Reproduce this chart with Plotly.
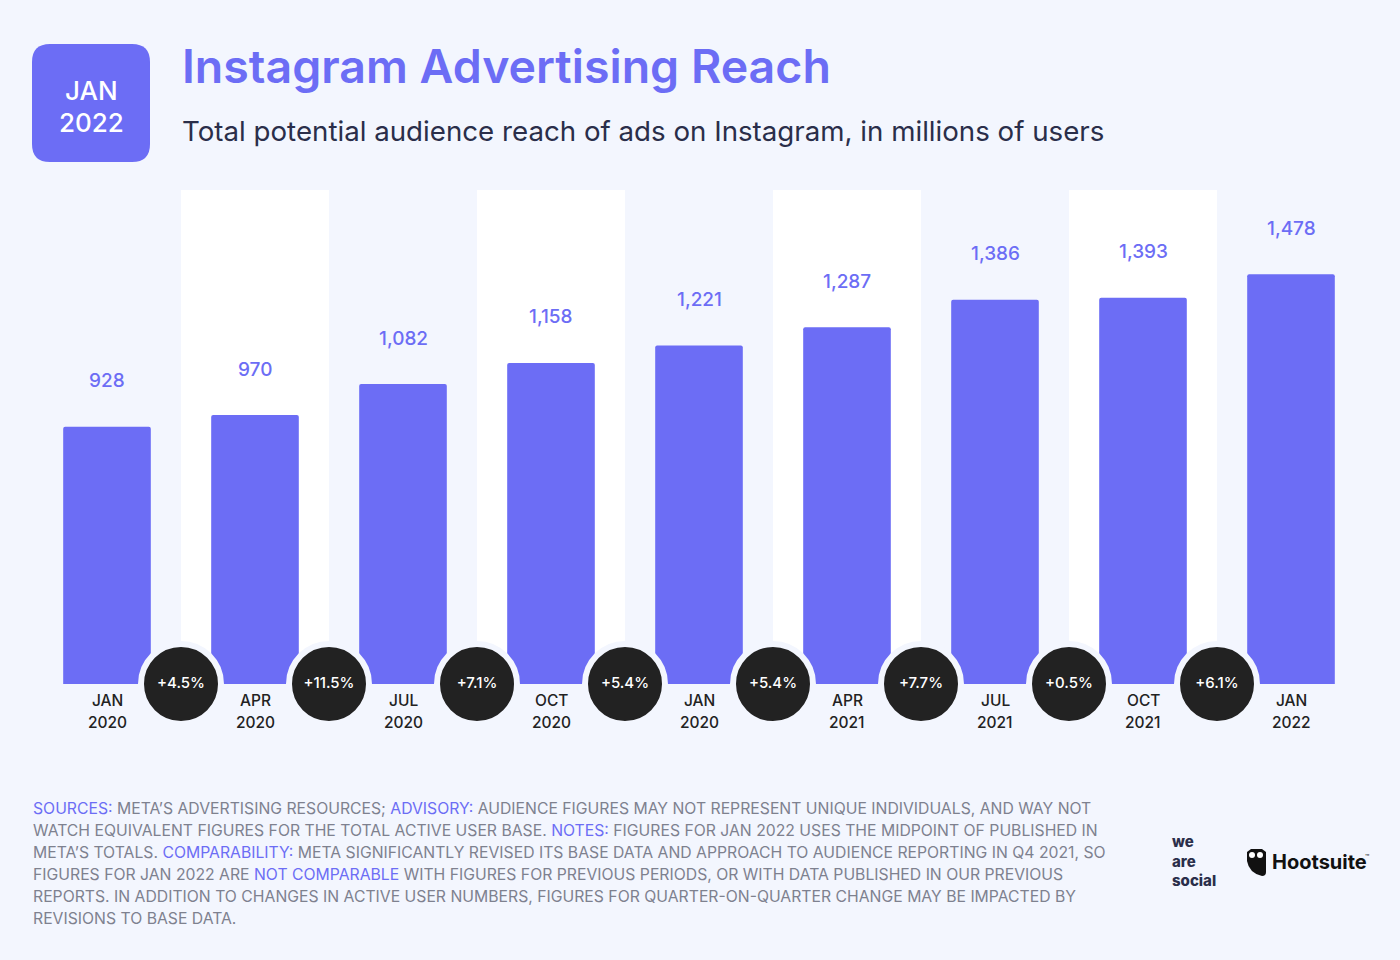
import plotly.graph_objects as go

# ---------------- data ----------------
months = ["JAN", "APR", "JUL", "OCT", "JAN", "APR", "JUL", "OCT", "JAN"]
years = ["2020", "2020", "2020", "2020", "2020", "2021", "2021", "2021", "2022"]
reach = [928, 970, 1082, 1158, 1221, 1287, 1386, 1393, 1478]
changes = ["+4.5%", "+11.5%", "+7.1%", "+5.4%", "+5.4%", "+7.7%", "+0.5%", "+6.1%"]

# ---------------- style ----------------
BG = "#F3F6FE"
PURPLE = "#6C6DF5"
DARK = "#222222"
NAVY = "#2A2E4A"
GREY = "#7E818F"
FONT = "Inter"

W, H = 1400, 960
L, R, T, B = 33, 35, 190, 276
PW = W - L - R
PH = H - T - B
YMAX = 1782


def px(x):
    return (x - L) / PW


def py(y):
    return (H - B - y) / PH


xs = list(range(len(reach)))
fig = go.Figure()

fig.add_trace(go.Bar(
    x=xs, y=reach, width=0.592, marker=dict(color=PURPLE, line=dict(width=0)),
    hoverinfo="skip", showlegend=False,
))

mid = [i + 0.5 for i in range(len(changes))]
fig.add_trace(go.Scatter(
    x=mid, y=[0] * len(changes), mode="markers+text", text=changes,
    textposition="middle center",
    textfont=dict(family=FONT, size=15, color="white", weight=500),
    marker=dict(size=80, color=DARK, line=dict(width=6, color=BG)),
    cliponaxis=False, hoverinfo="skip", showlegend=False,
))

shapes = []
# white stripes behind alternate columns
for i in range(0, len(reach) - 1, 2):
    shapes.append(dict(type="rect", xref="x", yref="paper", x0=i + 0.5, x1=i + 1.5,
                       y0=0, y1=1, fillcolor="white", line=dict(width=0), layer="below"))

# rounded date badge
bx0, bx1, by0, by1, rr = 32, 150, 44, 162, 18
path = (f"M {px(bx0+rr)},{py(by0)} L {px(bx1-rr)},{py(by0)} Q {px(bx1)},{py(by0)} {px(bx1)},{py(by0+rr)} "
        f"L {px(bx1)},{py(by1-rr)} Q {px(bx1)},{py(by1)} {px(bx1-rr)},{py(by1)} "
        f"L {px(bx0+rr)},{py(by1)} Q {px(bx0)},{py(by1)} {px(bx0)},{py(by1-rr)} "
        f"L {px(bx0)},{py(by0+rr)} Q {px(bx0)},{py(by0)} {px(bx0+rr)},{py(by0)} Z")
shapes.append(dict(type="path", xref="paper", yref="paper", path=path,
                   fillcolor=PURPLE, line=dict(width=0)))

# owl icon (Hootsuite)
ox0, ox1, oy0, oy1 = 1247, 1266, 849, 876
owl = (f"M {px(ox0)},{py(oy0+3)} L {px(ox0+4)},{py(oy0)} L {px(ox1-4)},{py(oy0)} L {px(ox1)},{py(oy0+3)} "
       f"L {px(ox1)},{py(oy1-4)} Q {px(ox1)},{py(oy1)} {px(ox1-4)},{py(oy1)} "
       f"Q {px(ox0+2)},{py(oy1-3)} {px(ox0)},{py(oy0+12)} Z")
shapes.append(dict(type="path", xref="paper", yref="paper", path=owl,
                   fillcolor="#111111", line=dict(width=0)))
for ex in (1252, 1260):
    shapes.append(dict(type="circle", xref="paper", yref="paper",
                       x0=px(ex - 3), x1=px(ex + 3), y0=py(855 + 3), y1=py(855 - 3),
                       fillcolor="white", line=dict(width=0)))

ann = []
# value labels
for i, v in enumerate(reach):
    ann.append(dict(x=i, y=v, xref="x", yref="y", text=f"{v:,}", showarrow=False,
                    yanchor="middle", yshift=46,
                    font=dict(family=FONT, size=19, color=PURPLE, weight=500)))
# category labels
for i, (m, yv) in enumerate(zip(months, years)):
    ann.append(dict(x=i, y=0, xref="x", yref="y", text=m, showarrow=False,
                    yanchor="middle", yshift=-16,
                    font=dict(family=FONT, size=15.5, color=DARK, weight=500)))
    ann.append(dict(x=i, y=0, xref="x", yref="y", text=yv, showarrow=False,
                    yanchor="middle", yshift=-38,
                    font=dict(family=FONT, size=15.5, color=DARK, weight=500)))

# badge text
ann.append(dict(x=px(91), y=py(90), xref="paper", yref="paper", text="JAN", showarrow=False,
                xanchor="center", yanchor="middle",
                font=dict(family=FONT, size=26, color="white", weight=500)))
ann.append(dict(x=px(91), y=py(122), xref="paper", yref="paper", text="2022", showarrow=False,
                xanchor="center", yanchor="middle",
                font=dict(family=FONT, size=26, color="white", weight=500)))
# title / subtitle
ann.append(dict(x=px(180), y=py(66), xref="paper", yref="paper", text="Instagram Advertising Reach",
                showarrow=False, xanchor="left", yanchor="middle",
                font=dict(family=FONT, size=46.5, color=PURPLE, weight=600)))
ann.append(dict(x=px(180), y=py(131), xref="paper", yref="paper",
                text="Total potential audience reach of ads on Instagram, in millions of users",
                showarrow=False, xanchor="left", yanchor="middle",
                font=dict(family=FONT, size=27.7, color=NAVY, weight=400)))


def hl(s):
    return f'<span style="color:{PURPLE}">{s}</span>'


foot = [
    hl("SOURCES:") + " META’S ADVERTISING RESOURCES; " + hl("ADVISORY:") +
    " AUDIENCE FIGURES MAY NOT REPRESENT UNIQUE INDIVIDUALS, AND WAY NOT",
    "WATCH EQUIVALENT FIGURES FOR THE TOTAL ACTIVE USER BASE. " + hl("NOTES:") +
    " FIGURES FOR JAN 2022 USES THE MIDPOINT OF PUBLISHED IN",
    "META’S TOTALS. " + hl("COMPARABILITY:") +
    " META SIGNIFICANTLY REVISED ITS BASE DATA AND APPROACH TO AUDIENCE REPORTING IN Q4 2021, SO",
    "FIGURES FOR JAN 2022 ARE " + hl("NOT COMPARABLE") +
    " WITH FIGURES FOR PREVIOUS PERIODS, OR WITH DATA PUBLISHED IN OUR PREVIOUS",
    "REPORTS. IN ADDITION TO CHANGES IN ACTIVE USER NUMBERS, FIGURES FOR QUARTER-ON-QUARTER CHANGE MAY BE IMPACTED BY",
    "REVISIONS TO BASE DATA.",
]
for k, line in enumerate(foot):
    ann.append(dict(x=px(31), y=py(808 + 22 * k), xref="paper", yref="paper", text=line,
                    showarrow=False, xanchor="left", yanchor="middle",
                    font=dict(family=FONT, size=15.75, color=GREY, weight=400)))

# logos
ann.append(dict(x=px(1170), y=py(861), xref="paper", yref="paper", text="we<br>are<br>social",
                showarrow=False, xanchor="left", yanchor="middle", align="left",
                font=dict(family=FONT, size=15, color=NAVY, weight=800)))
ann.append(dict(x=px(1270), y=py(862), xref="paper", yref="paper", text="Hootsuite",
                showarrow=False, xanchor="left", yanchor="middle",
                font=dict(family=FONT, size=20, color="#111111", weight=700)))
ann.append(dict(x=px(1363), y=py(857), xref="paper", yref="paper", text="™",
                showarrow=False, xanchor="left", yanchor="middle",
                font=dict(family=FONT, size=7, color="#111111")))

fig.update_layout(
    width=W, height=H, margin=dict(l=L, r=R, t=T, b=B),
    paper_bgcolor=BG, plot_bgcolor=BG,
    barcornerradius=2,
    xaxis=dict(range=[-0.5, len(reach) - 0.5], showgrid=False, zeroline=False,
               showticklabels=False, fixedrange=True),
    yaxis=dict(range=[0, YMAX], showgrid=False, zeroline=False,
               showticklabels=False, fixedrange=True),
    shapes=shapes, annotations=ann, showlegend=False,
)

fig.write_html("out.html")
